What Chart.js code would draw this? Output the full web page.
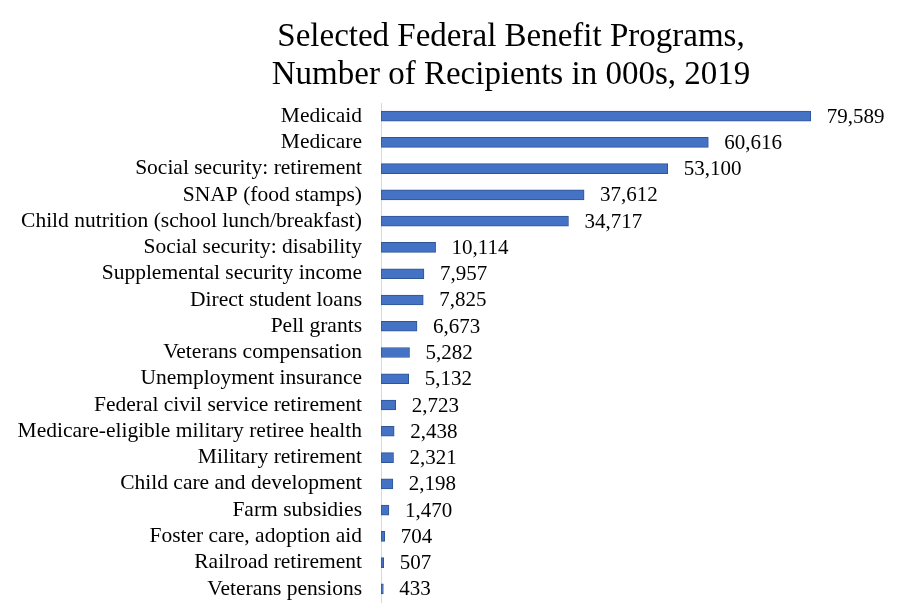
<!DOCTYPE html>
<html>
<head>
<meta charset="utf-8">
<script src="https://cdn.jsdelivr.net/npm/chart.js@4"></script>
<style>
  html, body { margin: 0; padding: 0; background: #fff; overflow: hidden; }
  canvas { display: block; }
</style>
</head>
<body>
<canvas id="benefitChart" width="918" height="605"></canvas>
<script>
const programs = [
  'Medicaid', 'Medicare', 'Social security: retirement', 'SNAP (food stamps)',
  'Child nutrition (school lunch/breakfast)', 'Social security: disability',
  'Supplemental security income', 'Direct student loans', 'Pell grants',
  'Veterans compensation', 'Unemployment insurance', 'Federal civil service retirement',
  'Medicare-eligible military retiree health', 'Military retirement',
  'Child care and development', 'Farm subsidies', 'Foster care, adoption aid',
  'Railroad retirement', 'Veterans pensions'
];
const recipients = [79589, 60616, 53100, 37612, 34717, 10114, 7957, 7825, 6673,
  5282, 5132, 2723, 2438, 2321, 2198, 1470, 704, 507, 433];
const titleLines = ['Selected Federal Benefit Programs,', 'Number of Recipients in 000s, 2019'];

const serif = '"Liberation Serif", "Times New Roman", serif';

// title drawn by hand so it can sit off-centre like the original
const titlePlugin = {
  id: 'titleText',
  afterDraw(chart) {
    const ctx = chart.ctx;
    ctx.save();
    ctx.fillStyle = '#000';
    ctx.font = '33px ' + serif;
    ctx.textAlign = 'center';
    ctx.textBaseline = 'middle';
    titleLines.forEach((line, i) => {
      ctx.fillText(line, 511, 37 + i * 38);
    });
    ctx.restore();
  }
};

// value labels at the end of each bar
const valueLabels = {
  id: 'valueLabels',
  afterDatasetsDraw(chart) {
    const ctx = chart.ctx;
    const meta = chart.getDatasetMeta(0);
    ctx.save();
    ctx.fillStyle = '#000';
    ctx.font = '21px ' + serif;
    ctx.textAlign = 'left';
    ctx.textBaseline = 'middle';
    meta.data.forEach((bar, i) => {
      ctx.fillText(recipients[i].toLocaleString('en-US'), bar.x + 16, bar.y + 1);
    });
    ctx.restore();
  }
};

const ctx = document.getElementById('benefitChart').getContext('2d');
const benefitChart = new Chart(ctx, {
  type: 'bar',
  data: {
    labels: programs,
    datasets: [{
      data: recipients,
      backgroundColor: '#4472C4',
      borderColor: '#2F5597',
      borderWidth: 1,
      borderSkipped: false,
      barThickness: 10
    }]
  },
  options: {
    indexAxis: 'y',
    responsive: false,
    animation: false,
    layout: { padding: { top: 103, right: 51, bottom: 3, left: 0 } },
    plugins: {
      legend: { display: false },
      tooltip: { enabled: false }
    },
    scales: {
      x: {
        display: false,
        min: 0,
        max: 90000
      },
      y: {
        grid: { display: false },
        border: { display: true, color: '#d9d9d9', width: 1 },
        ticks: {
          color: '#000',
          font: { family: serif, size: 21.5 },
          padding: 11,
          autoSkip: false
        },
        afterFit(scale) {
          scale.width = 381;
          scale.paddingTop = 0;
          scale.paddingBottom = 0;
        }
      }
    }
  },
  plugins: [titlePlugin, valueLabels]
});
</script>
</body>
</html>
